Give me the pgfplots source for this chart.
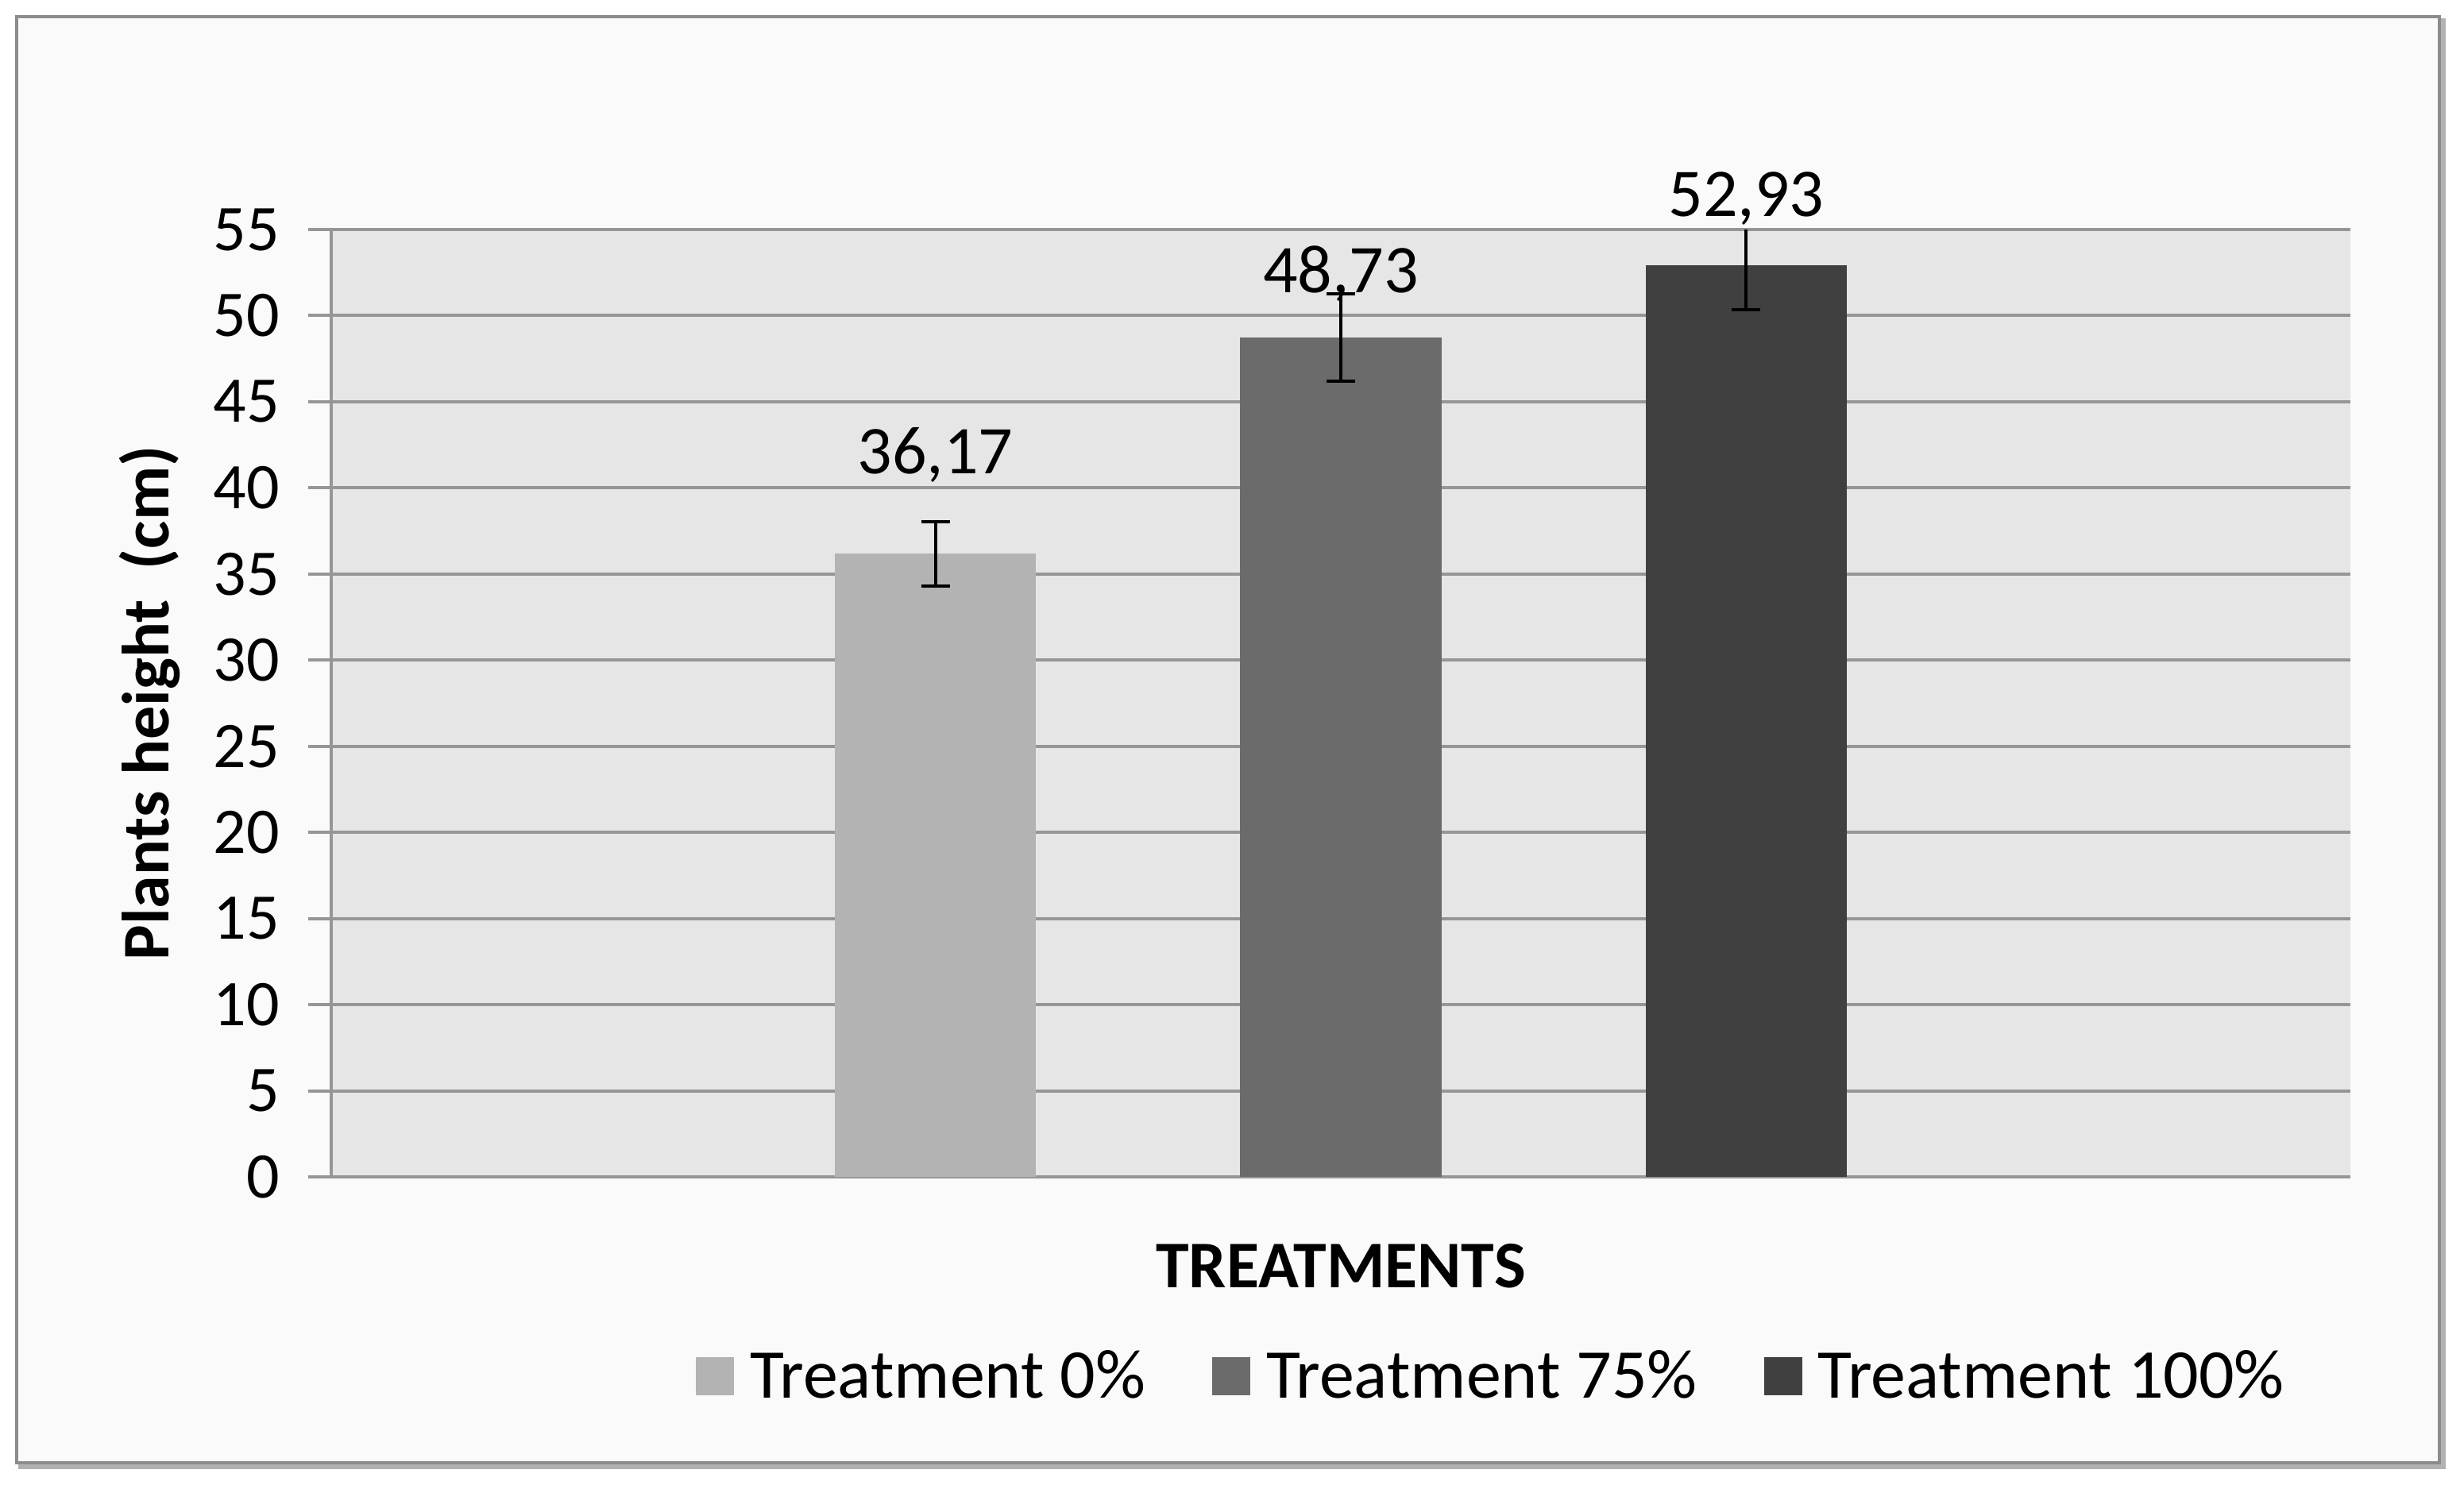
\documentclass[border=0pt]{standalone}
\usepackage{fontspec}
\setmainfont{Carlito}
\usepackage{pgfplots}
\pgfplotsset{compat=1.18}
\definecolor{barA}{RGB}{179,179,179}
\definecolor{barB}{RGB}{107,107,107}
\definecolor{barC}{RGB}{64,64,64}
\definecolor{plotbg}{RGB}{230,230,230}
\definecolor{outerbg}{RGB}{250,250,250}
\definecolor{gridc}{RGB}{150,150,150}
\definecolor{borderc}{RGB}{140,140,140}
\pgfplotsset{
  vallabel/.style={
    nodes near coords={\pgfmathprintnumber[fixed, fixed zerofill, precision=2, use comma]{\pgfplotspointmeta}},
    nodes near coords style={font=\fontsize{21.5}{25}\selectfont, text=black},
    every node near coord/.append style={anchor=center, yshift=#1}},
}
\begin{document}
\begin{tikzpicture}
\useasboundingbox (0,0) rectangle (775.5pt,467.5pt);
\fill[white] (0,0) rectangle (775.5pt,467.5pt);
\draw[line width=1.5pt, color=gray!60] (6.5pt,5.8pt) rectangle (769pt,461pt);
\draw[line width=1pt, color=borderc, fill=outerbg] (5.25pt,7pt) rectangle (767.75pt,462.25pt);
\begin{axis}[
  at={(104.25pt,97pt)}, anchor=south west,
  scale only axis, width=635.5pt, height=298.25pt,
  xmin=-0.49, xmax=4.49, ymin=0, ymax=55,
  ytick={0,5,...,55}, xtick=\empty,
  /pgf/number format/assume math mode=true,
  axis lines*=left,
  axis line style={-, draw=gridc, line width=1pt},
  axis background/.style={fill=plotbg},
  ymajorgrids, grid style={draw=gridc, line width=1pt},
  tick align=outside, major tick length=7.25pt,
  ytick style={draw=gridc, line width=1pt},
  tick label style={font=\fontsize{20.5}{24}\selectfont, text=black},
  yticklabel style={xshift=-5.5pt},
  ylabel={\textbf{Plants height\ \ (cm)}},
  ylabel style={at={(axis description cs:-0.0901,0.5)}, anchor=center, rotate=0, font=\fontsize{21}{25}\selectfont},
  xlabel={\textbf{TREATMENTS}},
  xlabel style={at={(axis description cs:0.5,-0.0939)}, anchor=center, font=\fontsize{21}{25}\selectfont},
  legend style={at={(axis description cs:0.5755,-0.2104)}, anchor=center, draw=none, fill=none,
    font=\fontsize{22}{26}\selectfont, legend columns=3,
    /tikz/every odd column/.append style={column sep=3pt},
    /tikz/every even column/.append style={column sep=19pt}},
  legend cell align=left,
  legend image code/.code={\fill[#1, draw=none] (0pt,-6pt) rectangle (12pt,6pt);},
  bar width=0.496,
  clip=false,
]
\addplot[ybar, bar shift=0pt, fill=barA, draw=none, vallabel=31pt,
  error bars/.cd, y dir=both, y explicit,
  error bar style={black, line width=1pt},
  error mark options={rotate=90, mark size=4.5pt, line width=1pt, black}]
  coordinates {(1,36.17) +- (0,1.85)};
\addlegendentry{Treatment 0\%}
\addplot[ybar, bar shift=0pt, fill=barB, draw=none, vallabel=20.2pt,
  error bars/.cd, y dir=both, y explicit,
  error bar style={black, line width=1pt},
  error mark options={rotate=90, mark size=4.5pt, line width=1pt, black}]
  coordinates {(2,48.73) +- (0,2.55)};
\addlegendentry{Treatment 75\%}
\addplot[ybar, bar shift=0pt, fill=barC, draw=none, vallabel=21pt,
  error bars/.cd, y dir=minus, y explicit,
  error bar style={black, line width=1pt},
  error mark options={rotate=90, mark size=4.5pt, line width=1pt, black}]
  coordinates {(3,52.93) +- (0,2.6)};
\addlegendentry{Treatment 100\%}
% upper part of the third error bar, cut at the top of the axis as in the source
\addplot[forget plot, draw=none, mark=none,
  error bars/.cd, y dir=plus, y explicit, error mark=none,
  error bar style={black, line width=1pt}]
  coordinates {(3,52.93) +- (0,2.07)};
\end{axis}
\end{tikzpicture}
\end{document}
